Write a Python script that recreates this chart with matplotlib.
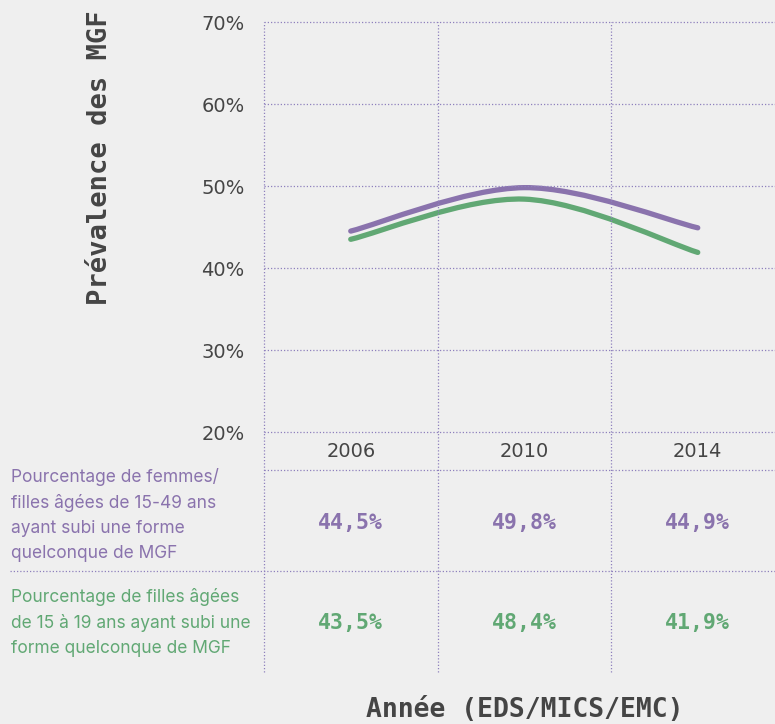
import numpy as np
import matplotlib
matplotlib.use("Agg")
import matplotlib.pyplot as plt
from matplotlib.path import Path
from matplotlib.patches import PathPatch

# donnees
annees = ["2006", "2010", "2014"]
femmes_15_49 = [44.5, 49.8, 44.9]
filles_15_19 = [43.5, 48.4, 41.9]
etiquettes_femmes = ["44,5%", "49,8%", "44,9%"]
etiquettes_filles = ["43,5%", "48,4%", "41,9%"]
yticks = [20, 30, 40, 50, 60, 70]

VIOLET = "#8a73ad"
VERT = "#61a874"
GRIS = "#454545"
FOND = "#efefef"
GRILLE = "#8f80bd"

W, H = 775, 724


def courbe_lisse(xs, ys):
    # catmull-rom -> bezier cubique
    pts = np.column_stack([xs, ys]).astype(float)
    p = np.vstack([pts[0], pts, pts[-1]])
    verts = [tuple(pts[0])]
    codes = [Path.MOVETO]
    for i in range(1, len(p) - 2):
        c1 = p[i] + (p[i + 1] - p[i - 1]) / 6
        c2 = p[i + 1] - (p[i + 2] - p[i]) / 6
        verts += [tuple(c1), tuple(c2), tuple(p[i + 1])]
        codes += [Path.CURVE4] * 3
    return Path(verts, codes)


def grille(**kw):
    kw.setdefault("color", GRILLE)
    kw.setdefault("lw", 0.9)
    kw.setdefault("ls", (0, (1, 1.6)))
    kw.setdefault("clip_on", False)
    return kw


fig = plt.figure(figsize=(W / 100, H / 100), dpi=100, facecolor=FOND)

x0, x1 = 264, 775
largeur_col = 173.5
xlim = (-0.5, -0.5 + (x1 - x0) / largeur_col)

# graphique du haut
ax = fig.add_axes([x0 / W, 1 - 432 / H, (x1 - x0) / W, (432 - 22) / H])
ax.set_facecolor(FOND)
ax.set_xlim(*xlim)
ax.set_ylim(20, 70)
for s in ax.spines.values():
    s.set_visible(False)
ax.set_xticks([])
ax.set_yticks(yticks)
ax.set_yticklabels([f"{v}%" for v in yticks], fontsize=14, color=GRIS,
                   family="DejaVu Sans")
ax.tick_params(axis="y", length=0, pad=14)
for v in yticks:
    ax.axhline(v, **grille())
for xv in [-0.5, 0.5, 1.5]:
    ax.axvline(xv, **grille())

xs = np.arange(len(annees))
for serie, couleur in [(femmes_15_49, VIOLET), (filles_15_19, VERT)]:
    patch = PathPatch(courbe_lisse(xs, serie), fill=False, edgecolor=couleur,
                      lw=3.8, capstyle="round", joinstyle="round")
    ax.add_patch(patch)

# tableau du bas (y en pixels depuis le haut)
tax = fig.add_axes([x0 / W, 1 - 672 / H, (x1 - x0) / W, (672 - 432) / H])
tax.set_facecolor("none")
tax.set_xlim(*xlim)
tax.set_ylim(672, 432)
tax.axis("off")
for xv in [-0.5, 0.5, 1.5]:
    tax.axvline(xv, **grille())
tax.axhline(470, **grille())
tax.axhline(571, xmin=(10 - x0) / (x1 - x0), xmax=1, **grille())

for i, a in enumerate(annees):
    tax.text(i, 451, a, ha="center", va="center", fontsize=14, color=GRIS,
             family="DejaVu Sans")
    tax.text(i, 523, etiquettes_femmes[i], ha="center", va="center", fontsize=15.5,
             color=VIOLET, family="DejaVu Sans Mono", weight="bold")
    tax.text(i, 623, etiquettes_filles[i], ha="center", va="center", fontsize=15.5,
             color=VERT, family="DejaVu Sans Mono", weight="bold")

fig.text(11 / W, 1 - 514.5 / H,
         "Pourcentage de femmes/\nfilles âgées de 15-49 ans\nayant subi une forme\nquelconque de MGF",
         ha="left", va="center", fontsize=12.5, color=VIOLET, family="Inter",
         linespacing=1.6)
fig.text(11 / W, 1 - 622.5 / H,
         "Pourcentage de filles âgées\nde 15 à 19 ans ayant subi une\nforme quelconque de MGF",
         ha="left", va="center", fontsize=12.5, color=VERT, family="Inter",
         linespacing=1.6)

fig.text(100 / W, 1 - 158 / H, "Prévalence des MGF", rotation=90, ha="center",
         va="center", fontsize=19.5, weight="bold", color=GRIS,
         family="DejaVu Sans Mono")
fig.text(525 / W, 1 - 717 / H, "Année (EDS/MICS/EMC)", ha="center", va="baseline",
         fontsize=19, weight="bold", color=GRIS, family="DejaVu Sans Mono")

fig.savefig("out.png", dpi=100, facecolor=FOND)
